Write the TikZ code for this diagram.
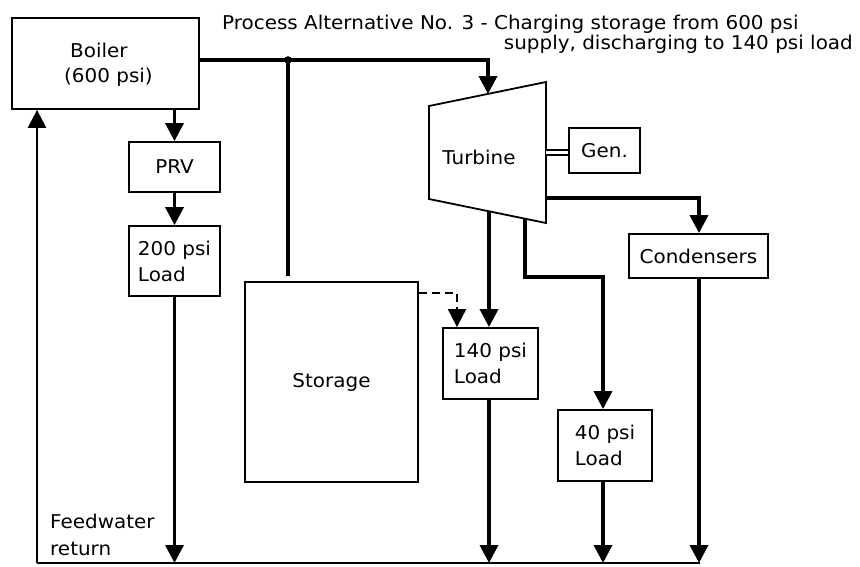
\documentclass[tikz,border=0pt]{standalone}
\usepackage{fontspec}
\setmainfont[FakeStretch=1.05]{DejaVu Sans}
\usetikzlibrary{arrows.meta}
\begin{document}
\begin{tikzpicture}[x=1pt,y=-1pt,
  box/.style={draw,line width=1.8pt,inner sep=0pt,align=left,font=\fontsize{19}{26}\selectfont},
  pipe/.style={line width=3.5pt},
  flow/.style={line width=3.5pt,-{Triangle[width=18pt,length=18pt]}},
  lbl/.style={inner sep=0pt,font=\fontsize{19}{26}\selectfont}]
\useasboundingbox (0,0) rectangle (860,566);
% boxes
\node[box,minimum width=187pt,minimum height=91pt] (boiler) at (105.5,63.5) {};
\node[lbl,anchor=base west,align=left,font=\fontsize{19}{25}\selectfont] (boilertxt) at (64,82) {\hspace*{6pt}Boiler\\(600 psi)};
\node[box,minimum width=91pt,minimum height=50pt] (prv) at (174.5,167) {PRV};
\node[box,minimum width=91pt,minimum height=70pt] (load200) at (174.5,261) {200 psi\\Load};
\node[box,minimum width=173pt,minimum height=200pt] (storage) at (331.5,382) {Storage};
\node[box,minimum width=95pt,minimum height=71pt] (load140) at (490.5,363.5) {140 psi\\Load};
\node[box,minimum width=94pt,minimum height=71pt] (load40) at (605,445.5) {40 psi\\Load};
\node[box,minimum width=139pt,minimum height=44pt] (cond) at (698.5,256) {Condensers};
\node[box,minimum width=71pt,minimum height=45pt] (gen) at (604.5,150.5) {Gen.};
% turbine
\coordinate (tTL) at (429,106);
\coordinate (tTR) at (546,82);
\coordinate (tBR) at (546,223);
\coordinate (tBL) at (429,199);
\draw[line width=1.8pt,line join=miter] (tTL) -- (tTR) -- (tBR) -- (tBL) -- cycle;
\node[lbl] (turb) at (479,157) {Turbine};
\coordinate (tin) at (488,94);
\coordinate (tout1) at (489,211);
\coordinate (tout2) at (525,219);
\coordinate (tout3) at (546,198);
\coordinate (tshaft) at (546,152);
% title
\node[lbl,anchor=base west] (t1) at (222,29) {Process Alternative No. 3 - Charging storage from 600 psi};
\node[lbl,anchor=base east] (t2) at (853,49) {supply, discharging to 140 psi load};
\node[lbl,anchor=base west,align=left,font=\fontsize{19}{27}\selectfont] (fw) at (50,555) {Feedwater\\return};
% coordinates
\coordinate (j1) at (288,60);
\coordinate (stTop) at (288,276);
\coordinate (fwR) at (700,563);
\coordinate (fwL) at (37,563);
\coordinate (k40) at (603,277);
\coordinate (kc) at (699,198);
\coordinate (ds) at (457,293);
% connectors
\draw[flow,line join=miter] (boiler.east |- j1) -- (tin |- j1) -- (tin);
\fill (j1) circle (3.8pt);
\draw[pipe] (j1) -- (stTop);
\draw[flow] (prv.north |- boiler.south) -- (prv.north);
\draw[flow] (prv.south) -- (load200.north);
\draw[flow] (load200.south) -- (load200.south |- fwR);
\draw[line width=2.5pt] (fwR) -- (fwL);
\draw[line width=2.5pt,-{Triangle[width=18pt,length=18pt]}] (fwL) -- (fwL |- boiler.south);
\draw[flow] (tout1) -- (tout1 |- load140.north);
\draw[flow,line join=miter] (tout2) -- (tout2 |- k40) -- (k40) -- (k40 |- load40.north);
\draw[flow,line join=miter] (tout3) -- (kc) -- (kc |- cond.north);
\draw[flow] (cond.south -| kc) -- (kc |- fwR);
\draw[flow] (load140.south -| tout1) -- (tout1 |- fwR);
\draw[flow] (load40.south -| k40) -- (k40 |- fwR);
\draw[line width=2pt,double,double distance=3pt] (tshaft) -- (gen.west |- tshaft);
\draw[line width=2pt,dash pattern=on 8pt off 5pt,-{Triangle[width=18pt,length=18pt]}] (storage.east |- ds) -- (ds) -- (ds |- load140.north);
\end{tikzpicture}
\end{document}
